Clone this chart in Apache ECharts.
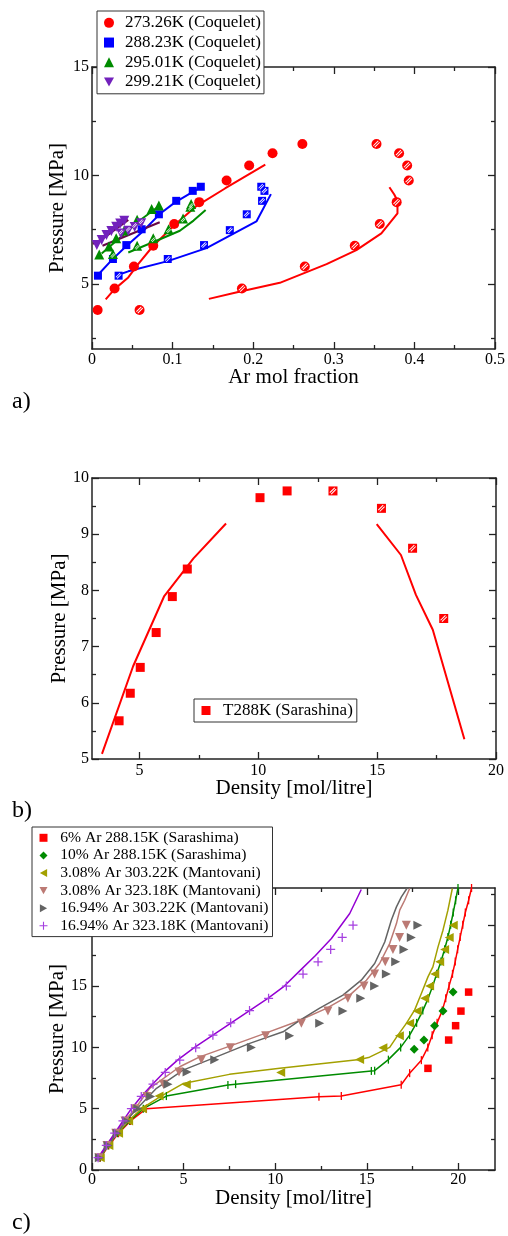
<!DOCTYPE html>
<html>
<head>
<meta charset="utf-8">
<script src="https://cdn.jsdelivr.net/npm/echarts@6/dist/echarts.min.js"></script>
<style>
  html, body { margin: 0; padding: 0; background: #fff; }
  #main { width: 508px; height: 1236px; }
</style>
</head>
<body>
<div id="main"></div>
<script>
// ---- panel a: Ar mol fraction vs pressure ----
const a273Liq = [[0.007,3.80],[0.028,4.79],[0.052,5.80],[0.076,6.76],[0.102,7.76],[0.133,8.77],[0.167,9.77],[0.195,10.46],[0.224,11.02],[0.261,11.45]];
const a273Vap = [[0.059,3.80],[0.186,4.79],[0.264,5.80],[0.326,6.76],[0.357,7.76],[0.378,8.77],[0.393,9.77],[0.391,10.46],[0.381,11.02],[0.353,11.45]];
const a288Liq = [[0.0074,5.38],[0.026,6.15],[0.0426,6.79],[0.0616,7.52],[0.083,8.21],[0.1045,8.83],[0.125,9.29],[0.135,9.48]];
const a288Vap = [[0.033,5.38],[0.094,6.15],[0.139,6.79],[0.171,7.48],[0.192,8.21],[0.211,8.83],[0.214,9.29],[0.21,9.48]];
const a295Liq = [[0.009,6.36],[0.021,6.72],[0.030,7.10],[0.040,7.46],[0.056,7.96],[0.074,8.45],[0.083,8.62]];
const a295Vap = [[0.026,6.38],[0.056,6.76],[0.076,7.10],[0.095,7.52],[0.113,8.02],[0.122,8.56],[0.123,8.68]];
const a299Liq = [[0.006,6.79],[0.012,7.02],[0.018,7.25],[0.024,7.44],[0.030,7.64],[0.035,7.79],[0.040,7.91]];
const a299Vap = [[0.036,7.33],[0.045,7.45],[0.053,7.62],[0.061,7.80]];
const a273LiqLine = [[0.017,4.29],[0.028,4.76],[0.045,5.3],[0.057,5.9],[0.076,6.76],[0.102,7.7],[0.13,8.6],[0.165,9.4],[0.215,10.5]];
const a273VapLine = [[0.145,4.31],[0.18,4.62],[0.233,5.05],[0.291,5.91],[0.328,6.56],[0.359,7.33],[0.379,8.25],[0.379,8.84],[0.375,9.12],[0.369,9.46]];
const a288LiqLine = [[0.007,5.4],[0.025,6.12],[0.043,6.76],[0.062,7.38],[0.084,8.22],[0.103,8.76],[0.134,9.44]];
const a288VapLine = [[0.032,5.41],[0.045,5.58],[0.094,6.05],[0.142,6.65],[0.204,7.88],[0.222,9.14]];
const a295LiqLine = [[0.012,6.4],[0.04,7.3],[0.06,7.95],[0.082,8.56]];
const a295VapLine = [[0.045,6.45],[0.08,6.99],[0.109,7.45],[0.126,7.92],[0.141,8.41]];
const a299LiqLine = [[0.001,6.85],[0.012,7.05],[0.045,7.95]];
const a299VapLine = [[0.013,6.76],[0.084,7.84]];
const aNames = ['273.26K (Coquelet)', '288.23K (Coquelet)', '295.01K (Coquelet)', '299.21K (Coquelet)'];

// ---- panel b: density vs pressure, 288K ----
const bLiq = [[4.14,5.68],[4.61,6.17],[5.03,6.63],[5.70,7.25],[6.38,7.89],[7.01,8.38],[10.07,9.65],[11.21,9.77]];
const bVap = [[13.14,9.77],[15.18,9.46],[16.49,8.75],[17.80,7.50]];
const bLine1 = [[3.42,5.09],[4.73,6.65],[6.04,7.90],[7.27,8.57],[8.64,9.19]];
const bLine2 = [[14.98,9.18],[16.0,8.63],[16.63,7.92],[17.34,7.30],[18.67,5.35]];
const bName = 'T288K (Sarashina)';

// ---- panel c: density vs pressure, mixtures ----
const cRed = [[18.34,8.29],[19.47,10.6],[19.85,11.77],[20.14,12.96],[20.56,14.51]];
const cGreen = [[17.59,9.84],[18.12,10.6],[18.70,11.77],[19.16,12.96],[19.71,14.51]];
const cOlive = [[0.45,1],[0.92,2],[1.45,3],[2.0,4],[2.75,5],[3.66,6.03],[5.15,6.98],[10.3,7.96],[14.61,9.02],[15.88,9.97],[16.78,10.95],[17.34,11.96],[17.75,12.96],[18.16,14.0],[18.43,15.0],[18.71,15.98],[18.98,16.98],[19.25,17.99],[19.5,18.97],[19.72,19.97]];
const cRosy = [[0.38,1],[0.82,2],[1.3,3],[1.8,4],[2.35,5],[3.0,6.0],[3.9,7.0],[4.75,8.0],[5.97,9.0],[7.55,9.97],[9.48,10.95],[11.43,11.96],[12.88,12.96],[13.97,14.0],[14.85,15.0],[15.43,15.98],[16.01,16.98],[16.43,17.99],[16.79,18.97],[17.16,19.97]];
const cGray = [[0.4,1],[0.88,2],[1.37,3],[1.88,4],[2.5,5],[3.2,6.0],[4.15,7.0],[5.19,8.0],[6.7,9.0],[8.7,10.0],[10.79,10.95],[12.43,11.96],[13.70,12.96],[14.67,14.0],[15.43,15.0],[16.07,15.98],[16.58,16.98],[17.03,17.99],[17.43,18.97],[17.79,19.97]];
const cPurple = [[0.33,1],[0.78,2],[1.24,3],[1.69,4],[2.15,5],[2.69,6],[3.33,7],[4.0,7.96],[4.79,8.97],[5.66,9.97],[6.6,11],[7.57,12],[8.6,13],[9.64,14],[10.61,15],[11.52,15.98],[12.34,16.98],[13.03,17.99],[13.66,18.97],[14.25,19.97]];
const cRedLine = [[0.45,1],[0.92,2],[1.45,3],[2.1,4],[2.97,5],[12.39,5.98],[13.61,6.03],[16.88,6.95],[17.34,7.9],[17.98,8.96],[18.33,10],[18.57,11],[18.84,12],[19.12,13],[19.31,14],[19.49,15],[19.68,16],[19.83,17],[19.96,18],[20.1,19],[20.24,20],[20.38,21],[20.56,22],[20.72,23]];
const cGreenLine = [[0.43,1],[0.88,2],[1.4,3],[2.05,4],[2.8,5],[4.06,6.03],[7.42,6.93],[7.84,7.0],[15.25,8.08],[15.43,8.1],[16.18,9],[16.85,10],[17.34,11],[17.72,12],[18.06,13],[18.35,14],[18.6,15],[18.82,16],[19.05,17],[19.25,18],[19.43,19],[19.58,20],[19.72,21],[19.85,22],[19.98,23]];
const cOliveLine = [[0.42,1],[0.86,2],[1.38,3],[1.98,4],[2.7,5],[3.75,6],[4.97,7.05],[7.5,7.8],[10.25,8.29],[14.61,9.02],[15.15,9.2],[16.25,10.0],[16.7,11.0],[17.16,11.96],[17.61,13.04],[17.98,14.4],[18.34,15.75],[18.61,16.57],[18.89,18.2],[19.16,19.56],[19.43,21.19],[19.67,22.96]];
const cRosyLine = [[0.38,1],[0.8,2],[1.28,3],[1.78,4],[2.35,5],[3.15,6.66],[4.79,8.42],[5.88,9.23],[7.52,10.1],[9.33,11.08],[11.16,12.09],[12.8,13.18],[14.07,14.26],[14.98,15.48],[15.7,16.84],[16.25,18.47],[16.62,20.1],[16.8,21.19],[17.07,22.0],[17.34,22.96]];
const cGrayLine = [[0.4,1],[0.86,2],[1.36,3],[1.86,4],[2.45,5],[3.52,6.66],[4.97,8.15],[6.79,9.23],[8.61,10.33],[10.43,11.27],[11.34,12.2],[12.43,13.2],[13.7,14.26],[14.7,15.48],[15.43,16.84],[15.98,18.6],[16.34,20.37],[16.62,21.46],[16.89,22.27],[17.19,22.96]];
const cPurpleLine = [[0.33,1],[0.78,2],[1.24,3],[1.69,4],[2.15,5],[2.69,6],[3.3,7],[3.95,8],[4.7,9],[5.6,10],[6.6,11],[7.6,12],[8.6,13],[9.6,14],[10.5,15],[11.34,16.24],[12.2,17.5],[13.07,18.88],[14.07,20.92],[14.7,22.88]];
const cNames = ['6% Ar 288.15K (Sarashima)', '10% Ar 288.15K (Sarashima)', '3.08% Ar 303.22K (Mantovani)',
  '3.08% Ar 323.18K (Mantovani)', '16.94% Ar 303.22K (Mantovani)', '16.94% Ar 323.18K (Mantovani)'];

// tick positions
const aXMajor = [0, 0.1, 0.2, 0.3, 0.4, 0.5];
const aXMinor = [0.05, 0.15, 0.25, 0.35, 0.45];
const aYMajor = [5, 10, 15];
const aYMinor = [2.5, 7.5, 12.5];
const bXMajor = [5, 10, 15, 20];
const bXMinor = [7.5, 12.5, 17.5];
const bYMajor = [5, 6, 7, 8, 9, 10];
const bYMinor = [5.5, 6.5, 7.5, 8.5, 9.5];
const cXMajor = [0, 5, 10, 15, 20];
const cXMinor = [2.5, 7.5, 12.5, 17.5];
const cYMajor = [0, 5, 10, 15, 20];
const cYMinor = [2.5, 7.5, 12.5, 17.5, 22.5];

const FONT = "'Liberation Serif', 'Times New Roman', serif";
const AXC = '#222';
const HATCH = 'path://M0,7 L7,0 L8,1 L1,8 Z M2,9 L9,2 L10,3 L3,10 Z';
const TRI_DOWN = 'path://M0,0 L10,0 L5,9 Z';
const TRI_LEFT = 'path://M10,0 L10,10 L1,5 Z';
const TRI_RIGHT = 'path://M0,0 L0,10 L9,5 Z';
const PLUS = 'path://M4.3,0 H5.7 V4.3 H10 V5.7 H5.7 V10 H4.3 V5.7 H0 V4.3 H4.3 Z';

let xAxes = [], yAxes = [];
function addAxes(list, grid, dim, min, max, majors, minors, name, nameGap, labelMargin) {
  const sides = dim === 'x' ? ['bottom', 'top'] : ['left', 'right'];
  sides.forEach((pos, k) => {
    [majors, minors].forEach((vals, m) => {
      list.push({
        type: 'value', gridIndex: grid, position: pos, min: min, max: max,
        name: (k === 0 && m === 0) ? name : '',
        nameLocation: 'middle', nameGap: nameGap, nameMoveOverlap: false,
        nameTextStyle: { fontFamily: FONT, fontSize: 21, color: '#000' },
        axisLine: { show: m === 0, onZero: false, lineStyle: { color: AXC, width: 1.5 } },
        axisTick: { show: true, inside: true, length: m === 0 ? 7 : 4, customValues: vals,
          lineStyle: { color: AXC, width: 1.3 } },
        axisLabel: { show: k === 0 && m === 0, customValues: majors, margin: labelMargin,
          fontFamily: FONT, fontSize: 16, color: '#000' },
        splitLine: { show: false }
      });
    });
  });
}
addAxes(xAxes, 0, 'x', 0, 0.5, aXMajor, aXMinor, 'Ar mol fraction', 18, 3);
addAxes(yAxes, 0, 'y', 2, 15, aYMajor, aYMinor, 'Pressure [MPa]', 24, 3);
addAxes(xAxes, 1, 'x', 3, 20, bXMajor, bXMinor, 'Density [mol/litre]', 19, 4);
addAxes(yAxes, 1, 'y', 5, 10, bYMajor, bYMinor, 'Pressure [MPa]', 22, 3);
addAxes(xAxes, 2, 'x', 0, 22, cXMajor, cXMinor, 'Density [mol/litre]', 18, 2);
addAxes(yAxes, 2, 'y', 0, 23, cYMajor, cYMinor, 'Pressure [MPa]', 24, 5);

function pts(name, g, data, symbol, size, color, offset) {
  return { type: 'scatter', name: name, xAxisIndex: 4 * g, yAxisIndex: 4 * g, data: data,
    symbol: symbol, symbolSize: size, symbolOffset: offset || [0, 0],
    itemStyle: { color: color, opacity: 1 }, z: 3, silent: true };
}
function curve(name, g, data, color, width, bars) {
  return { type: 'line', name: name, xAxisIndex: 4 * g, yAxisIndex: 4 * g, data: data,
    symbol: bars ? 'rect' : 'none', symbolSize: [1.3, 8], showSymbol: !!bars,
    lineStyle: { color: color, width: width }, itemStyle: { color: color }, z: 2, silent: true };
}

const RED = '#ff0000', BLUE = '#0000ff', GREEN = '#008b00', INDIGO = '#7221bc', MAROON = '#670748';
const OLIVE = '#a3a000', ROSY = '#bc7a74', GRAY = '#646464', VIOLET = '#9400d3';

const series = [
  curve('a273l', 0, a273LiqLine, RED, 2), curve('a273v', 0, a273VapLine, RED, 2),
  curve('a288l', 0, a288LiqLine, BLUE, 2), curve('a288v', 0, a288VapLine, BLUE, 2),
  curve('a295l', 0, a295LiqLine, GREEN, 2), curve('a295v', 0, a295VapLine, GREEN, 2),
  curve('a299l', 0, a299LiqLine, MAROON, 2.2), curve('a299v', 0, a299VapLine, MAROON, 2.2),
  pts(aNames[0], 0, a273Liq, 'circle', 10, RED),
  pts('a273 vap', 0, a273Vap, 'circle', 10, RED),
  pts('a273 hatch', 0, a273Vap, HATCH, 7, '#fff'),
  pts(aNames[1], 0, a288Liq, 'rect', 8, BLUE),
  pts('a288 vap', 0, a288Vap, 'rect', 8, BLUE),
  pts('a288 hatch', 0, a288Vap, HATCH, 6, '#fff'),
  pts(aNames[2], 0, a295Liq, 'triangle', 10, GREEN),
  pts('a295 vap', 0, a295Vap, 'triangle', 10, GREEN),
  pts('a295 hatch', 0, a295Vap, HATCH, 5, '#fff', [0, 1.5]),
  pts(aNames[3], 0, a299Liq, TRI_DOWN, 10, INDIGO),
  pts('a299 vap', 0, a299Vap, TRI_DOWN, 10, INDIGO),
  pts('a299 hatch', 0, a299Vap, HATCH, 5, '#fff', [0, -1.5]),

  curve('b1', 1, bLine1, RED, 2), curve('b2', 1, bLine2, RED, 2),
  pts(bName, 1, bLiq, 'rect', 9, RED),
  pts('b vap', 1, bVap, 'rect', 9, RED),
  pts('b hatch', 1, bVap, HATCH, 7, '#fff'),

  curve('c6', 2, cRedLine, RED, 1.5, true),
  curve('c10', 2, cGreenLine, GREEN, 1.5, true),
  curve('c303a', 2, cOliveLine, OLIVE, 1.5),
  curve('c323a', 2, cRosyLine, ROSY, 1.5),
  curve('c303b', 2, cGrayLine, GRAY, 1.5),
  curve('c323b', 2, cPurpleLine, VIOLET, 1.5),
  pts(cNames[0], 2, cRed, 'rect', 7.5, RED),
  pts(cNames[1], 2, cGreen, 'diamond', 9, GREEN),
  pts(cNames[2], 2, cOlive, TRI_LEFT, 9, OLIVE),
  pts(cNames[3], 2, cRosy, TRI_DOWN, 9, ROSY),
  pts(cNames[4], 2, cGray, TRI_RIGHT, 9, GRAY),
  pts(cNames[5], 2, cPurple, PLUS, 9, '#a53fe0')
];

const legendBase = {
  orient: 'vertical', itemGap: 0, selectedMode: false,
  borderColor: '#333', borderWidth: 1, backgroundColor: '#fff', borderRadius: 0
};

const option = {
  animation: false,
  backgroundColor: '#fff',
  grid: [
    { left: 92, top: 67, width: 403, height: 282, outerBoundsMode: 'none' },
    { left: 92, top: 478, width: 404, height: 281, outerBoundsMode: 'none' },
    { left: 92, top: 888, width: 403, height: 282, outerBoundsMode: 'none' }
  ],
  xAxis: xAxes,
  yAxis: yAxes,
  legend: [
    Object.assign({}, legendBase, { data: aNames, left: 97, top: 11, itemWidth: 10, itemHeight: 10,
      padding: [2, 3, 2, 7],
      textStyle: { fontFamily: FONT, fontSize: 17, lineHeight: 19.7, color: '#000', padding: [0, 0, 0, 6] } }),
    Object.assign({}, legendBase, { data: [bName], left: 194, top: 699, itemWidth: 9, itemHeight: 9,
      padding: [3, 4, 3, 7.5],
      textStyle: { fontFamily: FONT, fontSize: 17, lineHeight: 17, color: '#000', padding: [0, 0, 0, 7.5] } }),
    Object.assign({}, legendBase, { data: cNames, left: 32, top: 827, itemWidth: 8, itemHeight: 8,
      padding: [2, 4, 2, 7.5],
      textStyle: { fontFamily: FONT, fontSize: 15.6, lineHeight: 17.6, color: '#000', padding: [0, 0, 0, 7.7] } })
  ],
  graphic: [
    { type: 'text', left: 12, top: 390, style: { text: 'a)', font: '24px ' + FONT, fill: '#000' } },
    { type: 'text', left: 12, top: 799, style: { text: 'b)', font: '24px ' + FONT, fill: '#000' } },
    { type: 'text', left: 12, top: 1211, style: { text: 'c)', font: '24px ' + FONT, fill: '#000' } }
  ],
  series: series
};

const chart = echarts.init(document.getElementById('main'), null, { renderer: 'canvas' });
chart.setOption(option);
</script>
</body>
</html>
